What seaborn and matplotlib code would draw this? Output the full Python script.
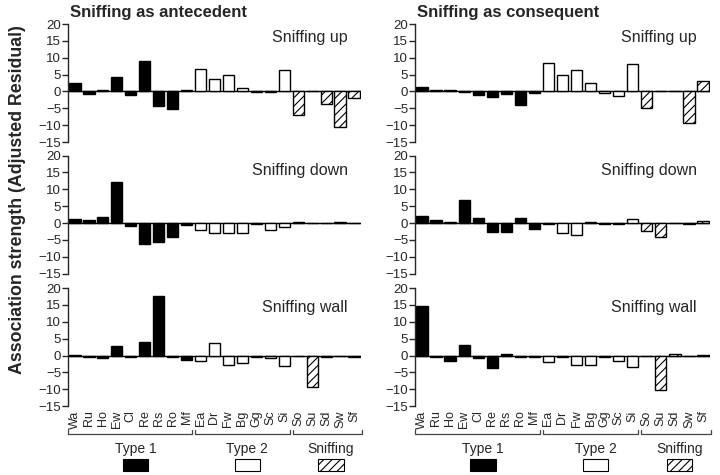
import pandas as pd
import seaborn as sns
import matplotlib.pyplot as plt
from matplotlib.patches import Rectangle
from matplotlib.transforms import blended_transform_factory

#################
#### DATA  ######
#################

codes = ['Wa', 'Ru', 'Ho', 'Ew', 'Cl', 'Re', 'Rs', 'Ro', 'Mf',
         'Ea', 'Dr', 'Fw', 'Bg', 'Gg', 'Sc', 'Si',
         'So', 'Su', 'Sd', 'Sw', 'Sf']
groups = ['Type 1'] * 9 + ['Type 2'] * 7 + ['Sniffing'] * 5
group_names = ['Type 1', 'Type 2', 'Sniffing']

ante_up = [2.6, -0.8, 0.5, 4.3, -1.0, 9.0, -4.2, -5.2, 0.5,
           6.7, 3.7, 4.8, 0.9, -0.3, -0.3, 6.4,
           -7.0, 0.0, -3.7, -10.4, -2.0]
ante_down = [1.1, 1.0, 1.7, 12.2, -0.8, -6.2, -5.7, -4.0, -0.7,
             -2.2, -2.9, -3.0, -2.9, -0.3, -2.2, -1.3,
             0.3, -0.1, 0.0, 0.4, -0.1]
ante_wall = [0.2, -0.5, -0.6, 2.8, -0.5, 3.9, 17.7, -0.3, -1.3,
             -1.7, 3.8, -2.7, -2.2, -0.3, -0.8, -3.0,
             0.0, -9.4, -0.3, 0.0, -0.5]
cons_up = [1.3, 0.5, 0.5, -0.3, -1.2, -1.5, -0.7, -4.1, -0.6,
           8.4, 5.0, 6.4, 2.5, -0.4, -1.3, 8.2,
           -5.0, 0.0, 0.0, -9.3, 3.1]
cons_down = [2.0, 1.0, 0.4, 6.8, 1.6, -2.6, -2.6, 1.4, -1.7,
             -0.2, -3.1, -3.6, 0.3, -0.3, -0.2, 1.2,
             -2.4, -4.0, 0.0, -0.3, 0.7]
cons_wall = [14.7, -0.5, -1.7, 3.1, -0.6, -3.7, 0.5, -0.3, -0.3,
             -1.8, -0.3, -2.7, -2.7, -0.3, -1.7, -3.4,
             0.0, -10.2, 0.5, 0.0, 0.3]

panel_labels = ['Sniffing up', 'Sniffing down', 'Sniffing wall']
column_titles = ['Sniffing as antecedent', 'Sniffing as consequent']

##################
#### STYLE  ######
##################

sns.set_style('ticks')
plt.rcParams['font.family'] = ['Liberation Sans', 'DejaVu Sans']
plt.rcParams['hatch.linewidth'] = 0.8

palette = {'Type 1': 'black', 'Type 2': 'white', 'Sniffing': 'white'}

fig = plt.figure(figsize=(7.2, 4.75), dpi=100)

col_x = [68 / 720, 415 / 720]
col_w = [293 / 720, 295 / 720]
row_bottom = [0.701, 0.424, 0.145]
row_h = 118 / 475
label_y = [0.89, 0.87, 0.84]


def draw_panel(ax, values, label, ly, bottom_row):
    df = pd.DataFrame({'code': codes, 'value': values, 'group': groups})
    sns.barplot(data=df, x='code', y='value', hue='group', hue_order=group_names,
                palette=palette, dodge=False, width=0.8, edgecolor='black',
                linewidth=1, legend=False, ax=ax)
    for bar in ax.containers[2]:
        bar.set_hatch('////')
    ax.axhline(0, color='black', lw=1, zorder=0.5)
    ax.set_xlim(-0.5, 20.5)
    ax.set_ylim(-15, 20)
    ax.set_yticks(range(-15, 25, 5))
    ax.tick_params(axis='y', length=4, width=1, labelsize=9.5, pad=1)
    ax.tick_params(axis='x', length=0, labelsize=9, pad=3)
    for s in ['top', 'right', 'bottom']:
        ax.spines[s].set_visible(False)
    ax.spines['left'].set_linewidth(1)
    ax.set_xlabel('')
    ax.set_ylabel('')
    ax.patch.set_alpha(0)
    ax.text(0.955, ly, label, transform=ax.transAxes, ha='right', va='center', fontsize=11.5)
    if bottom_row:
        ax.set_xticks(range(len(codes)))
        ax.set_xticklabels(codes, rotation=90)
    else:
        ax.set_xticklabels([])


def draw_groups(ax):
    trans = blended_transform_factory(ax.transData, ax.transAxes)
    spans = [(-0.5, 8.4), (8.6, 15.4), (15.6, 20.6)]
    centers = [4.35, 12.35, 18.35]
    by = -0.237
    for (x0, x1), c, name in zip(spans, centers, group_names):
        ax.plot([x0, x0, x1, x1], [by + 0.035, by, by, by + 0.035], color='#444444',
                lw=0.9, transform=trans, clip_on=False)
        ax.text(c, -0.364, name, transform=trans, ha='center', va='center', fontsize=10)
        rect = Rectangle((c - 0.9, -0.551), 1.8, 0.102, transform=trans, clip_on=False,
                         facecolor=palette[name], edgecolor='black', lw=0.8,
                         hatch='////' if name == 'Sniffing' else None)
        ax.add_patch(rect)


all_values = [[ante_up, ante_down, ante_wall], [cons_up, cons_down, cons_wall]]

for c in range(2):
    for r in range(3):
        ax = fig.add_axes([col_x[c], row_bottom[r], col_w[c], row_h])
        draw_panel(ax, all_values[c][r], panel_labels[r], label_y[r], r == 2)
        if r == 2:
            draw_groups(ax)
    fig.text(col_x[c] + 0.003, 1 - 12 / 475, column_titles[c], ha='left', va='center',
             fontsize=12, fontweight='bold')

fig.text(0.025, 0.579, 'Association strength (Adjusted Residual)', rotation=90,
         ha='center', va='center', fontsize=12.8, fontweight='bold')

fig.savefig('out.png', dpi=100)
